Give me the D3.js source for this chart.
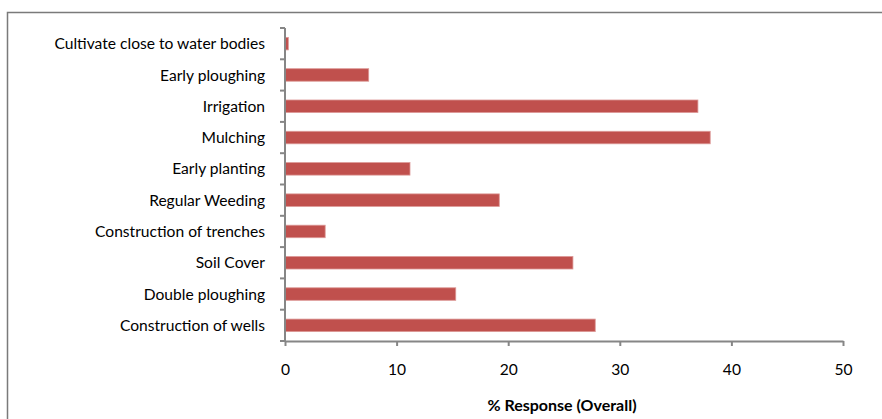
<!DOCTYPE html>
<html>
<head>
<meta charset="utf-8">
<script src="https://cdn.jsdelivr.net/npm/d3@7/dist/d3.min.js"></script>
<style>
  html, body { margin: 0; padding: 0; background: #fff; }
  svg { display: block; }
  text { font-family: Lato, "Open Sans", sans-serif; fill: #000; }
</style>
</head>
<body>
<svg id="chart" width="882" height="419"></svg>
<script>
// Adaptation measures, listed top to bottom
const categories = [
  "Cultivate close to water bodies",
  "Early ploughing",
  "Irrigation",
  "Mulching",
  "Early planting",
  "Regular Weeding",
  "Construction of trenches",
  "Soil Cover",
  "Double ploughing",
  "Construction of wells"
];
// % Response (Overall)
const responses = [0.3, 7.5, 37.0, 38.1, 11.2, 19.2, 3.6, 25.8, 15.3, 27.8];
const xTicks = [0, 10, 20, 30, 40, 50];
const xTitle = "% Response (Overall)";

const svg = d3.select("#chart");
const W = 882, H = 419;
const plot = { left: 285, right: 843, top: 28, bottom: 341 };
const axisColor = "#868686";
const fontSize = "15.6px";

// outer frame
svg.append("rect")
  .attr("x", 7.5).attr("y", 12.5)
  .attr("width", W + 20).attr("height", H + 20)
  .attr("fill", "none")
  .attr("stroke", "#7a7a7a")
  .attr("stroke-width", 1.5);

const x = d3.scaleLinear().domain([0, 50]).range([plot.left, plot.right]);
const y = d3.scaleBand().domain(categories)
  .range([plot.top, plot.bottom])
  .paddingInner(0.6).paddingOuter(0.3);

// bars
svg.append("g").selectAll("rect")
  .data(categories.map((c, i) => ({ c, v: responses[i] })))
  .join("rect")
  .attr("x", x(0))
  .attr("y", d => y(d.c))
  .attr("width", d => x(d.v) - x(0))
  .attr("height", y.bandwidth())
  .attr("fill", "#c0504d")
  .attr("stroke", "#dc9896")
  .attr("stroke-width", 0.8);

// y axis: line with ticks at category boundaries
const yAxis = svg.append("g");
yAxis.append("line")
  .attr("x1", plot.left).attr("x2", plot.left)
  .attr("y1", plot.top).attr("y2", plot.bottom)
  .attr("stroke", axisColor).attr("stroke-width", 2);
const step = (plot.bottom - plot.top) / categories.length;
yAxis.selectAll("line.tick")
  .data(d3.range(categories.length + 1))
  .join("line").attr("class", "tick")
  .attr("x1", plot.left - 5).attr("x2", plot.left)
  .attr("y1", i => plot.top + i * step).attr("y2", i => plot.top + i * step)
  .attr("stroke", axisColor).attr("stroke-width", 2);

yAxis.selectAll("text")
  .data(categories)
  .join("text")
  .attr("x", 265)
  .attr("y", d => y(d) + y.bandwidth() / 2)
  .attr("dy", "0.36em")
  .attr("text-anchor", "end")
  .style("font-size", fontSize)
  .text(d => d);

// x axis
const xAxis = svg.append("g")
  .attr("transform", `translate(0,${plot.bottom})`)
  .call(d3.axisBottom(x).tickValues(xTicks).tickSize(5).tickPadding(18).tickSizeOuter(0));
xAxis.select(".domain").attr("stroke", axisColor).attr("stroke-width", 2);
xAxis.selectAll(".tick line").attr("stroke", axisColor).attr("stroke-width", 2);
xAxis.selectAll(".tick text")
  .attr("font-family", null)
  .style("font-size", fontSize)
  .style("fill", "#000");

svg.append("text")
  .attr("x", 562)
  .attr("y", 405)
  .attr("dy", "0.36em")
  .attr("text-anchor", "middle")
  .style("font-size", "16px")
  .style("font-weight", "bold")
  .text(xTitle);
</script>
</body>
</html>
